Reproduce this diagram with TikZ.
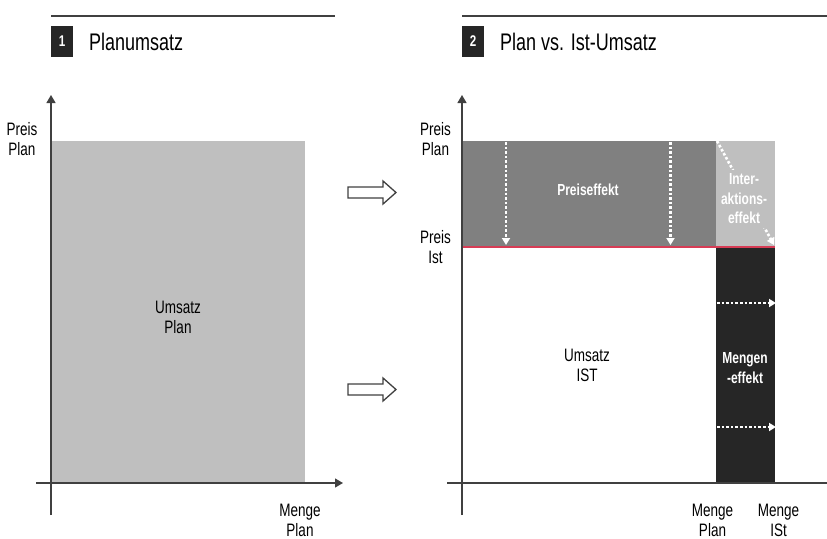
\documentclass[tikz,border=0pt]{standalone}
\usepackage{fontspec}
\setmainfont[FakeStretch=0.75]{Liberation Sans}
\usetikzlibrary{arrows.meta}
\definecolor{axisc}{HTML}{404040}
\definecolor{midgray}{HTML}{808080}
\definecolor{lightg}{HTML}{BFBFBF}
\definecolor{darkbox}{HTML}{262626}
\definecolor{redline}{RGB}{215,60,85}
\tikzset{
  rule/.style={draw=axisc, line width=2.4pt},
  numbox/.style={fill=darkbox, text=white, font=\bfseries\fontsize{15.5}{17}\selectfont, minimum width=22pt, minimum height=31pt, inner sep=0pt},
  titletext/.style={anchor=west, font=\fontsize{24}{28}\selectfont, text=black, inner sep=0pt},
  axisline/.style={draw=axisc, line width=1.3pt},
  axisarrow/.style={axisline, -{Triangle[length=8pt,width=9pt]}},
  lbl/.style={font=\fontsize{18}{20}\selectfont, align=center, inner sep=0pt, text=black},
  inlbl/.style={font=\bfseries\fontsize{16}{19.5}\selectfont, align=center, inner sep=0pt, text=white},
  area/.style={inner sep=0pt, anchor=north west},
  dotarrow/.style={draw=white, line width=2.6pt, dash pattern=on 2.6pt off 2pt, -{Triangle[length=7pt,width=8pt]}},
  blockarrow/.style={draw=axisc, line width=1.3pt, fill=white},
}
\begin{document}
\begin{tikzpicture}[x=1pt,y=-1pt]
\useasboundingbox (0,0) rectangle (827,538);
% ---------- Panel 1 ----------
\draw[rule] (51,16) -- (335,16);
\node[numbox] (n1) at (62,41.5) {1};
\node[titletext] (t1) at (89,42) {Planumsatz};
\node[area, fill=lightg, minimum width=254pt, minimum height=342pt] (a1) at (51,141) {};
\node[lbl] (u1) at (178,317) {Umsatz\\Plan};
\coordinate (y1b) at (51,515);
\coordinate (y1t) at (51,95);
\coordinate (x1l) at (36,483);
\coordinate (x1r) at (343,483);
\draw[axisarrow] (y1b) -- (y1t);
\draw[axisarrow] (x1l) -- (x1r);
\node[lbl] (pp1) at (22,139) {Preis\\Plan};
\node[lbl, anchor=north] (mp1) at (300,504) {Menge\\Plan};
% ---------- block arrows ----------
\draw[blockarrow] (348,187) -- (383,187) -- (383,181) -- (396,192.5) -- (383,204) -- (383,198) -- (348,198) -- cycle;
\draw[blockarrow] (348,384) -- (383,384) -- (383,378) -- (396,389.5) -- (383,401) -- (383,395) -- (348,395) -- cycle;
% ---------- Panel 2 ----------
\draw[rule] (462,16) -- (827,16);
\node[numbox] (n2) at (473,41.5) {2};
\node[titletext] (t2) at (500,42) {Plan vs. Ist-Umsatz};
\node[area, fill=midgray, minimum width=254pt, minimum height=106pt] (pe) at (462,141) {};
\node[area, fill=lightg, minimum width=59pt, minimum height=106pt] (ie) at (716,141) {};
\node[area, fill=darkbox, minimum width=59pt, minimum height=236pt] (me) at (716,247) {};
\coordinate (rl) at (462,247);
\coordinate (rr) at (775,247);
\draw[redline, line width=2pt] (rl) -- (rr);
\coordinate (y2b) at (462,515);
\coordinate (y2t) at (462,95);
\coordinate (x2l) at (447,483);
\coordinate (x2r) at (827,483);
\draw[axisarrow] (y2b) -- (y2t);
\draw[axisline] (x2l) -- (x2r);
% dotted arrows
\coordinate (d1a) at (506,142); \coordinate (d1b) at (506,245);
\coordinate (d2a) at (670.5,142); \coordinate (d2b) at (670.5,245);
\coordinate (d3a) at (717,141); \coordinate (d3b) at (774,245);
\coordinate (d4a) at (717,303); \coordinate (d4b) at (776,303);
\coordinate (d5a) at (717,427); \coordinate (d5b) at (776,427);
\draw[dotarrow] (d1a) -- (d1b);
\draw[dotarrow] (d2a) -- (d2b);
\draw[dotarrow] (d3a) -- (d3b);
\draw[dotarrow] (d4a) -- (d4b);
\draw[dotarrow] (d5a) -- (d5b);
% labels
\node[inlbl] (pel) at (588,190) {Preiseffekt};
\node[inlbl, fill=lightg, inner xsep=1pt, inner ysep=4pt] (iel) at (744,199) {Inter-\\aktions-\\effekt};
\node[inlbl] (mel) at (745,368) {Mengen\\-effekt};
\node[lbl] (u2) at (587,365) {Umsatz\\IST};
\node[lbl] (pp2) at (435.5,139) {Preis\\Plan};
\node[lbl] (pi2) at (435.5,247) {Preis\\Ist};
\node[lbl, anchor=north] (mp2) at (712.5,504) {Menge\\Plan};
\node[lbl, anchor=north] (mi2) at (778.5,504) {Menge\\ISt};
\end{tikzpicture}
\end{document}
